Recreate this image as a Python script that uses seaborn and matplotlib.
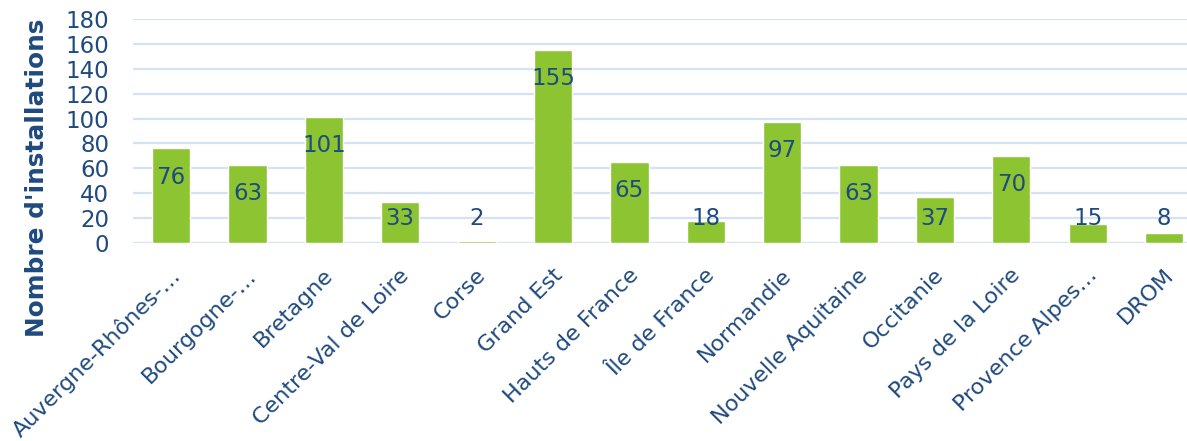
import matplotlib
matplotlib.use("Agg")
import matplotlib.pyplot as plt
import matplotlib.transforms as mtransforms
import seaborn as sns
import pandas as pd

regions = ["Auvergne-Rhônes-…", "Bourgogne-…", "Bretagne", "Centre-Val de Loire", "Corse",
           "Grand Est", "Hauts de France", "Île de France", "Normandie", "Nouvelle Aquitaine",
           "Occitanie", "Pays de la Loire", "Provence Alpes…", "DROM"]
installations = [76, 63, 101, 33, 2, 155, 65, 18, 97, 63, 37, 70, 15, 8]
yticks = [0, 20, 40, 60, 80, 100, 120, 140, 160, 180]

TEXT = "#1F4A7E"
GREEN = "#8DC532"
GRID = "#D5E2F3"

sns.set_theme(style="white")
plt.rcParams['font.family'] = ['DejaVu Sans']

fig = plt.figure(figsize=(11.87, 4.41), dpi=100)
ax = fig.add_axes([0.112, 0.449, 0.888, 0.508])

df = pd.DataFrame({"region": regions, "n": installations})
sns.barplot(data=df, x="region", y="n", color=GREEN, saturation=1, width=0.5, ax=ax, zorder=3)

ax.set_ylim(0, 180)
ax.set_xlim(-0.5, 13.3)
ax.set_yticks(yticks)
ax.set_yticklabels([str(t) for t in yticks], fontsize=16.5, color=TEXT)
for t in yticks:
    ax.axhline(t, color=GRID, lw=1.6, zorder=1)

ax.set_xticks(range(len(regions)))
ax.set_xticklabels(regions, rotation=45, ha="right", va="center", rotation_mode="anchor",
                   fontsize=16.0, color=TEXT)
ax.tick_params(axis="x", length=0, pad=21)
ax.tick_params(axis="y", length=0, pad=17)
offset = mtransforms.ScaledTranslation(6 / 100, 0, fig.dpi_scale_trans)
for lab in ax.get_xticklabels():
    lab.set_transform(lab.get_transform() + offset)
for s in ax.spines.values():
    s.set_visible(False)

ax.set_xlabel("")
ax.set_ylabel("")
fig.text(37 / 1187, 1 - 178 / 441, "Nombre d'installations", rotation=90, ha="center", va="center",
         fontsize=17.8, fontweight="bold", color=TEXT)

for i, v in enumerate(installations):
    ypos = max(v - 23, 19.5)
    ax.text(i, ypos, str(v), ha="center", va="center", fontsize=16.5, color=TEXT, zorder=4)

fig.savefig("out.png", dpi=100)
